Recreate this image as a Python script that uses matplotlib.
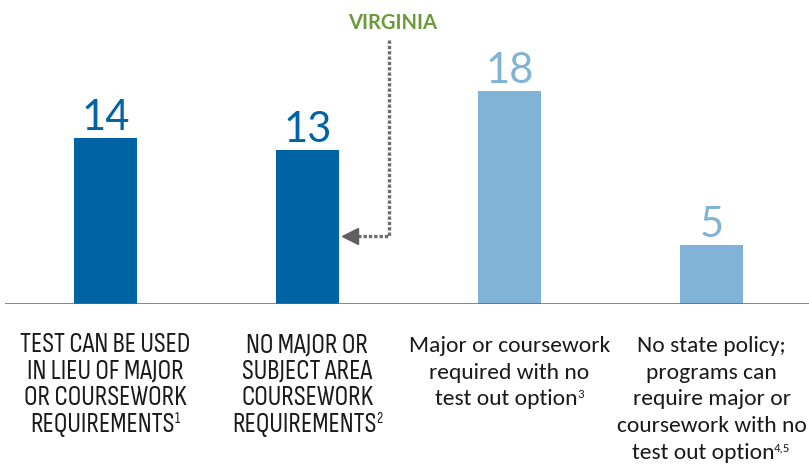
import matplotlib
matplotlib.use("Agg")
import matplotlib.pyplot as plt
from matplotlib import font_manager as fm
from matplotlib.transforms import offset_copy

category_lines = [
    ["TEST CAN BE USED", "IN LIEU OF MAJOR", "OR COURSEWORK", "REQUIREMENTS"],
    ["NO MAJOR OR", "SUBJECT AREA", "COURSEWORK", "REQUIREMENTS"],
    ["Major or coursework", "required with no", "test out option"],
    ["No state policy;", "programs can", "require major or", "coursework with no", "test out option"],
]
footnotes = ["1", "2", "3", "4,5"]
values = [14, 13, 18, 5]
colors = ["#0064A4", "#0064A4", "#80B3D5", "#80B3D5"]
annotation_label = "VIRGINIA"

names = {f.name for f in fm.fontManager.ttflist}
def pick(cands):
    return next(f for f in cands if f in names)
caps_font = pick(["Sofia Sans Condensed", "Sofia Sans Semi Condensed", "PT Sans Narrow", "Liberation Sans"])
mixed_font = pick(["Carlito", "Sofia Sans", "Lato", "Liberation Sans"])

W, H = 809, 472
fig = plt.figure(figsize=(W / 100, H / 100), dpi=100)
renderer = fig.canvas.get_renderer()
px_per_unit = 11.86
spacing = 202.0
x0 = 105.5
base_y = 304
ax = fig.add_axes([5 / W, (H - base_y) / H, 804 / W, base_y / H])
ax.set_xlim((5 - x0) / spacing, (809 - x0) / spacing)
ax.set_ylim(0, base_y / px_per_unit)
ax.axis("off")

def text_width(s, family, size):
    t = fig.text(0, 0, s, family=family, fontsize=size)
    w = t.get_window_extent(renderer).width
    t.remove()
    return w

# fit label font sizes to the reference widths of one line
caps_size = 10 * 171 / text_width("TEST CAN BE USED", caps_font, 10)
mixed_size = 10 * 200 / text_width("Major or coursework", mixed_font, 10)

xs = list(range(len(values)))
ax.bar(xs, values, width=63 / spacing, color=colors, zorder=2)
ax.axhline(0, color="#2f74b0", lw=1.1, zorder=3)

for x, v, c in zip(xs, values, colors):
    ax.text(x, v + 8 / px_per_unit, str(v), ha="center", va="baseline", fontsize=30,
            color=c, family=["Lato", "DejaVu Sans"])

pitch = 26.7
first_base = 352
for x, lines, fn in zip(xs, category_lines, footnotes):
    fam = caps_font if lines[0].isupper() else mixed_font
    size = caps_size if fam == caps_font else mixed_size
    sup_size = size * 0.55
    for i, line in enumerate(lines):
        y = -(first_base + i * pitch - base_y) / px_per_unit
        last = i == len(lines) - 1
        if last:
            wm = text_width(line, fam, size)
            ws = text_width(fn, fam, sup_size)
            shift = -ws / 2
            ax.text(x, y, line, ha="center", va="baseline", fontsize=size,
                    color="#1a1a1a", family=fam,
                    transform=offset_copy(ax.transData, fig, x=shift, y=0, units="dots"))
            ax.text(x, y, fn, ha="left", va="baseline", fontsize=sup_size,
                    color="#1a1a1a", family=fam,
                    transform=offset_copy(ax.transData, fig, x=shift + wm / 2 - 0.5,
                                          y=size * 100 / 72 * 0.33, units="dots"))
        else:
            ax.text(x, y, line, ha="center", va="baseline", fontsize=size,
                    color="#1a1a1a", family=fam)

# Virginia annotation
vx = (389 - x0) / spacing
vy = (base_y - 236) / px_per_unit
ytop = (base_y - 40) / px_per_unit
ax.plot([vx, vx, (357 - x0) / spacing], [ytop, vy, vy], color="#6d6d6d", lw=2.4,
        linestyle=(0, (1, 0.6)), zorder=4, clip_on=False)
ax.plot([(350 - x0) / spacing], [vy], marker="<", markersize=11, color="#5f5f5f",
        zorder=5, clip_on=False)
ax.text((393 - x0) / spacing, (base_y - 23) / px_per_unit, annotation_label, ha="center",
        va="center", fontsize=14.5, fontweight="bold", color="#6A9A3A",
        family=["Lato", "DejaVu Sans"], clip_on=False)

fig.savefig("out.png", dpi=100)
